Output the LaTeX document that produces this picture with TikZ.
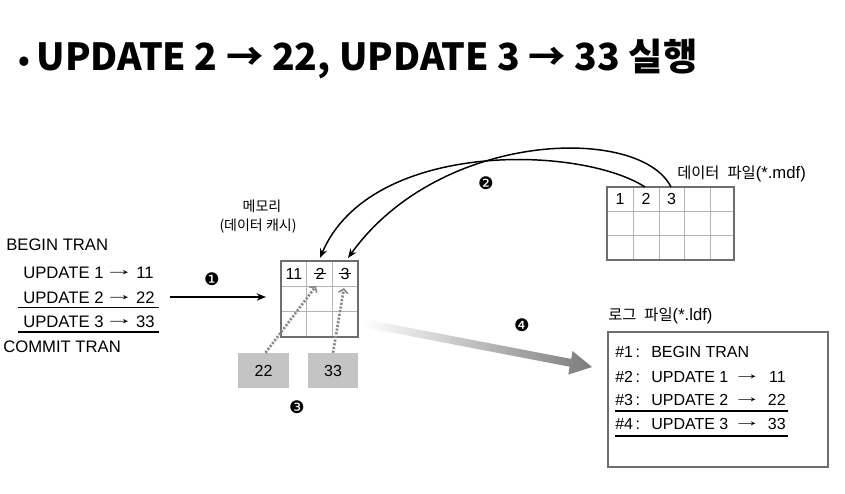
\documentclass[tikz,border=0pt]{standalone}
\usepackage{fontspec}
\setmainfont{Liberation Sans}
\newfontfamily\kr{Noto Sans CJK KR}
\newfontfamily\sym{DejaVu Sans}
\usetikzlibrary{arrows.meta,calc}
\definecolor{border}{HTML}{6E6E6E}
\definecolor{gridc}{HTML}{B4B4B4}
\definecolor{boxfill}{HTML}{C4C4C4}
\definecolor{dotc}{HTML}{8A8A8A}
\newcommand\sarr{\scalebox{1.8}[1]{→}}
\begin{document}
\begin{tikzpicture}[x=0.75pt,y=-0.75pt,
  txt/.style={anchor=west,inner sep=0pt,font=\fontsize{12.5}{14}\selectfont},
  ltxt/.style={anchor=west,inner sep=0pt,font=\fontsize{12}{14}\selectfont},
  krtxt/.style={inner sep=0pt,font=\kr\fontsize{10.5}{12}\selectfont},
  krbig/.style={anchor=west,inner sep=0pt,font=\kr\fontsize{11.5}{13}\selectfont},
  num/.style={inner sep=0pt,font=\sym\fontsize{13}{14}\selectfont},
  frame/.style={draw=border,line width=1.6pt,inner sep=0pt},
  gline/.style={draw=gridc,line width=0.6pt},
  cell/.style={inner sep=1pt,font=\fontsize{12}{13}\selectfont},
  strike/.style={line width=0.6pt},
  arr/.style={line width=1.1pt,-{Stealth[length=7pt,width=5.5pt]}},
  dotarr/.style={draw=dotc,line width=2pt,dash pattern=on 1.6pt off 1.2pt,-{Straight Barb[length=3pt,width=7pt,line width=1.2pt]}},
  grayb/.style={fill=boxfill,inner sep=0pt,minimum height=26.25pt,font=\fontsize{12}{13}\selectfont},
  uline/.style={line width=0.9pt}]
\useasboundingbox (0,0) rectangle (845,493);

% title
\node[anchor=base west,inner sep=0pt,font=\kr\bfseries\fontsize{28}{30}\selectfont] (title) at (18,70)
  {{\fontsize{22}{22}\selectfont •}\hspace{5pt}UPDATE 2 → 22, UPDATE 3 → 33 실행};

% left transaction text
\node[txt] (bt) at (6,245) {BEGIN TRAN};
\node[txt] (u1) at (23,273) {UPDATE 1};
\node[txt] (u2) at (23,298) {UPDATE 2};
\node[txt] (u3) at (23,322) {UPDATE 3};
\node[txt,anchor=center] (u1a) at (119,273) {\sarr};
\node[txt,anchor=center] (u2a) at (119,298) {\sarr};
\node[txt,anchor=center] (u3a) at (119,322) {\sarr};
\node[txt,anchor=east] (u1n) at (154,273) {11};
\node[txt,anchor=east] (u2n) at (155,298) {22};
\node[txt,anchor=east] (u3n) at (155,322) {33};
\node[txt] (ct) at (3,347) {COMMIT TRAN};
\coordinate (ul2a) at (18,307.5); \coordinate (ul2b) at (159,307.5);
\coordinate (ul3a) at (18,332); \coordinate (ul3b) at (159,332);
\draw[uline] (ul2a) -- (ul2b);
\draw[uline] (ul3a) -- (ul3b);

% arrow 1
\coordinate (a1s) at (170,297);
\coordinate (a1e) at (266,297);
\draw[arr] (a1s) -- (a1e);
\node[num] (n1) at (212,279) {❶};

% memory
\node[krtxt] (ml1) at (262,206) {메모리};
\node[krtxt] (ml2) at (258,226) {(데이터 캐시)};
\draw[gline] (306.7,261) -- (306.7,337) (332.3,261) -- (332.3,337)
             (281,286.3) -- (358,286.3) (281,311.7) -- (358,311.7);
\node[frame,minimum width=57.75pt,minimum height=57pt] (mem) at (319.5,299) {};
\node[cell] (m11) at (294,273.5) {11};
\node[cell] (m12) at (320,273.5) {2};
\node[cell] (m13) at (345,273.5) {3};
\draw[strike] (m12.west) -- (m12.east);
\draw[strike] (m13.west) -- (m13.east);

% gray boxes and dotted arrows
\node[grayb,minimum width=38.25pt] (b22) at (263.5,370.5) {22};
\node[grayb,minimum width=37.5pt] (b33) at (333,370.5) {33};
\coordinate (t22) at (316,286);
\coordinate (t33) at (344,288);
\draw[dotarr] ($(b22.north)+(2,0)$) -- (t22);
\draw[dotarr] (b33.north) -- (t33);
\node[num] (n3) at (297,407) {❸};

% data file
\node[krbig] (dl) at (677,174) {데이터\hspace{6pt}파일{\rmfamily\fontsize{12.5}{13}\selectfont(*.mdf)}};
\draw[gline] (633,187) -- (633,260) (659,187) -- (659,260) (684,187) -- (684,260) (710,187) -- (710,260)
             (607,211.3) -- (734,211.3) (607,235.7) -- (734,235.7);
\node[frame,minimum width=95.25pt,minimum height=54.75pt] (df) at (670.5,223.5) {};
\node[cell] (d1) at (620,199) {1};
\node[cell] (d2) at (646,199) {2};
\node[cell] (d3) at (671.5,199) {3};

% arcs 2
\coordinate (s2) at (645,187);
\coordinate (s3) at (671,187);
\coordinate (e2) at (320,258);
\coordinate (e3) at (348,258);
\draw[arr] (s2) .. controls (580,145) and (370,140) .. (e2);
\draw[arr] (s3) .. controls (640,125) and (440,130) .. (e3);
\node[num] (n2) at (486,183) {❷};

% gradient arrow 4
\shade[left color=white,right color=gray!85!black!90]
  (363.8,319.1) -- (571.2,358.9) -- (572.5,351.0) -- (592,367) -- (568.3,374.6) -- (569.6,366.7) -- (362.2,326.9) -- cycle;
\node[num] (n4) at (522,325) {❹};

% log file
\node[krbig] (ll) at (608,316) {로그\hspace{6pt}파일{\rmfamily\fontsize{12.5}{13}\selectfont(*.ldf)}};
\node[frame,minimum width=165pt,minimum height=101.25pt] (log) at (718,399.5) {};
\node[ltxt] (l1h) at (615,352) {\#1\,:};
\node[ltxt] (l2h) at (615,377) {\#2\,:};
\node[ltxt] (l3h) at (615,400) {\#3\,:};
\node[ltxt] (l4h) at (615,424) {\#4\,:};
\node[ltxt] (l1) at (651,352) {BEGIN TRAN};
\node[ltxt] (l2) at (651,377) {UPDATE 1};
\node[ltxt] (l3) at (651,400) {UPDATE 2};
\node[ltxt] (l4) at (651,424) {UPDATE 3};
\node[ltxt,anchor=center] (l2a) at (747,377) {\sarr};
\node[ltxt,anchor=center] (l3a) at (747,400) {\sarr};
\node[ltxt,anchor=center] (l4a) at (747,424) {\sarr};
\node[ltxt,anchor=east] (l2n) at (786,377) {11};
\node[ltxt,anchor=east] (l3n) at (786,400) {22};
\node[ltxt,anchor=east] (l4n) at (786,424) {33};
\coordinate (lu3a) at (615,411); \coordinate (lu3b) at (788,411);
\coordinate (lu4a) at (615,436); \coordinate (lu4b) at (788,436);
\draw[uline] (lu3a) -- (lu3b);
\draw[uline] (lu4a) -- (lu4b);
\end{tikzpicture}
\end{document}
